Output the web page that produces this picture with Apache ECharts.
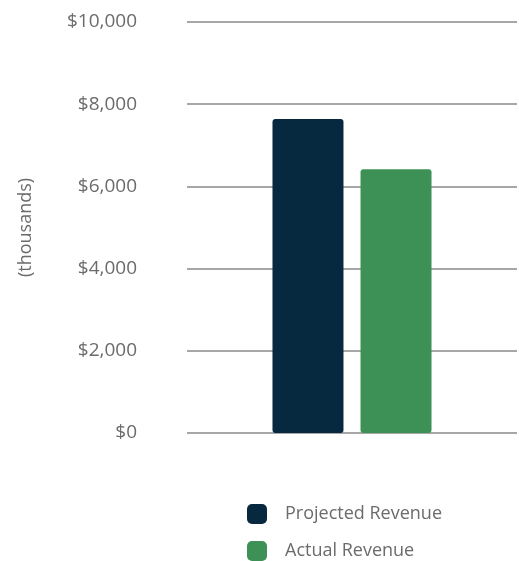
<!DOCTYPE html>
<html>

<head>
    <meta charset="utf-8">
    <script src="https://cdn.jsdelivr.net/npm/echarts@6/dist/echarts.min.js"></script>
    <style>
        html, body { margin: 0; padding: 0; background: #fff; }
        #main { width: 519px; height: 561px; }
    </style>
</head>

<body>
    <div id="main"></div>
    <script type="text/javascript">
        var categories = ['Revenue'];
        var projectedRevenue = [7640];
        var actualRevenue = [6420];
        var yTicks = [0, 2000, 4000, 6000, 8000, 10000];

        var textColor = '#6b6b6b';
        var fontFamily = 'Open Sans';

        var myChart = echarts.init(document.getElementById('main'));
        myChart.setOption({
            animation: false,
            grid: { left: 187, right: 2, top: 22, bottom: 128 },
            legend: {
                orient: 'vertical',
                left: 247,
                top: 504,
                padding: 0,
                itemWidth: 20,
                itemHeight: 20,
                itemGap: 17,
                icon: 'roundRect',
                textStyle: { color: textColor, fontSize: 18, fontFamily: fontFamily, padding: [0, 0, 0, 13] },
                data: ['Projected Revenue', 'Actual Revenue']
            },
            xAxis: {
                type: 'category',
                data: categories,
                axisLine: { show: false },
                axisTick: { show: false },
                axisLabel: { show: false }
            },
            yAxis: {
                type: 'value',
                min: yTicks[0],
                max: yTicks[yTicks.length - 1],
                interval: 2000,
                name: '(thousands)',
                nameLocation: 'middle',
                nameGap: 152,
                nameTextStyle: { color: textColor, fontSize: 18, fontFamily: fontFamily },
                axisLine: { show: false },
                axisTick: { show: false },
                axisLabel: {
                    color: textColor,
                    fontSize: 19,
                    fontFamily: fontFamily,
                    margin: 50,
                    formatter: function (v) { return '$' + v.toLocaleString('en-US'); }
                },
                splitLine: { lineStyle: { color: '#8a8a8a', width: 1.5 } }
            },
            series: [
                {
                    name: 'Projected Revenue',
                    type: 'bar',
                    data: projectedRevenue,
                    barWidth: 71,
                    barGap: '24%',
                    itemStyle: { color: '#062940', borderRadius: 3 }
                },
                {
                    name: 'Actual Revenue',
                    type: 'bar',
                    data: actualRevenue,
                    barWidth: 71,
                    itemStyle: { color: '#3d9156', borderRadius: 3 }
                }
            ]
        });
    </script>
</body>

</html>
